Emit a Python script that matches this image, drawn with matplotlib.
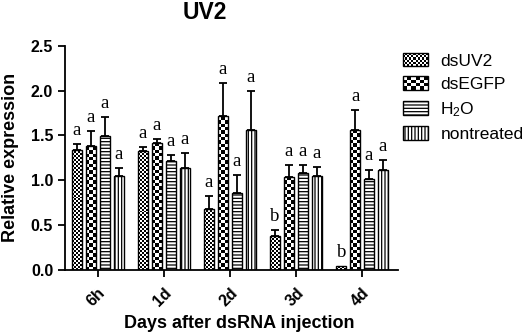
import numpy as np
import matplotlib
matplotlib.use('Agg')
import matplotlib.pyplot as plt
from matplotlib.patches import Patch, Rectangle
from matplotlib.legend_handler import HandlerBase

plt.rcParams['font.family'] = ['Liberation Sans', 'DejaVu Sans']
plt.rcParams['mathtext.default'] = 'regular'
plt.rcParams['hatch.linewidth'] = 0.9

# данные
groups = ['6h', '1d', '2d', '3d', '4d']
series = ['dsUV2', 'dsEGFP', 'H$_2$O', 'nontreated']
means = {
    'dsUV2':      [1.34, 1.33, 0.68, 0.38, 0.04],
    'dsEGFP':     [1.38, 1.41, 1.72, 1.04, 1.56],
    'H$_2$O':     [1.49, 1.21, 0.86, 1.08, 1.01],
    'nontreated': [1.05, 1.14, 1.56, 1.05, 1.12],
}
errs = {
    'dsUV2':      [0.06, 0.04, 0.15, 0.07, 0.0],
    'dsEGFP':     [0.17, 0.05, 0.36, 0.13, 0.22],
    'H$_2$O':     [0.21, 0.07, 0.20, 0.09, 0.11],
    'nontreated': [0.09, 0.16, 0.44, 0.10, 0.11],
}
letters = {
    'dsUV2':      ['a', 'a', 'a', 'b', 'b'],
    'dsEGFP':     ['a', 'a', 'a', 'a', 'a'],
    'H$_2$O':     ['a', 'a', 'a', 'a', 'a'],
    'nontreated': ['a', 'a', 'a', 'a', 'a'],
}
yticks = [0.0, 0.5, 1.0, 1.5, 2.0, 2.5]

# стиль заливки: (тип, параметр)
fills = {
    'dsUV2': ('checker', 5),
    'dsEGFP': ('checker', 3),
    'H$_2$O': ('hatch', '-----'),
    'nontreated': ('hatch', '|||||'),
}
cell_h = {'dsUV2': 0.022, 'dsEGFP': 0.037}

fig = plt.figure(figsize=(5.26, 3.36), dpi=100)
ax = fig.add_axes([0.1236, 0.1964, 0.7567 - 0.1236, 0.864 - 0.1964])

x = np.arange(len(groups))
offsets = [-0.315, -0.105, 0.105, 0.315]
width = 0.151


def checker_fill(ax, bar, nx, ch):
    x0, w, h = bar.get_x(), bar.get_width(), bar.get_height()
    ny = max(1, int(round(h / ch)))
    arr = np.add.outer(np.arange(ny), np.arange(nx)) % 2
    im = ax.imshow(arr, cmap='gray', vmin=0, vmax=1, origin='lower',
                   extent=(x0, x0 + w, 0, ny * ch), interpolation='nearest',
                   aspect='auto', zorder=1.5)
    im.set_clip_path(bar)


for s, off in zip(series, offsets):
    kind, p = fills[s]
    xs = x + off
    if kind == 'checker':
        bars = ax.bar(xs, means[s], width, facecolor='none', edgecolor='black',
                      linewidth=1.0, zorder=2)
        for b in bars:
            checker_fill(ax, b, p, cell_h[s])
    else:
        bars = ax.bar(xs, means[s], width, facecolor='white', edgecolor='black',
                      linewidth=1.0, hatch=p, zorder=2)
    e = np.array(errs[s])
    m = np.array(means[s])
    keep = e > 0
    ax.errorbar(xs[keep], m[keep], yerr=[np.zeros(keep.sum()), e[keep]], fmt='none',
                ecolor='black', elinewidth=1.3, capsize=3, capthick=1.3, zorder=3)
    for xi, top, lab in zip(xs, m + e, letters[s]):
        ax.annotate(lab, (xi, top), xytext=(0, 6.5), textcoords='offset points',
                    ha='center', va='baseline', fontsize=13.5,
                    family='Liberation Serif')

ax.set_xlim(-0.495, 4.545)
ax.set_ylim(0, 2.5)
ax.set_yticks(yticks)
ax.set_yticklabels([f'{t:.1f}' for t in yticks], fontsize=11.5, fontweight='bold')
ax.set_xticks(x)
ax.set_xticklabels(groups, fontsize=11.5, fontweight='bold', rotation=45,
                   ha='right', rotation_mode='anchor')
ax.tick_params(axis='both', direction='out', width=1.3, length=5, color='black')
ax.tick_params(axis='x', pad=6)
for sp in ['top', 'right']:
    ax.spines[sp].set_visible(False)
for sp in ['left', 'bottom']:
    ax.spines[sp].set_linewidth(1.3)

ax.set_ylabel('Relative expression', fontsize=13, fontweight='bold', va='center')
ax.yaxis.set_label_coords(-0.165, 0.504)
ax.set_xlabel('Days after dsRNA injection', fontsize=13, fontweight='bold', va='top')
ax.xaxis.set_label_coords(0.523, -0.20)

fig.text(205 / 526, 1 - 12.5 / 336, 'UV2', fontsize=16.5, fontweight='bold',
         ha='center', va='center')


class CheckerHandler(HandlerBase):
    def __init__(self, nx, ny):
        super().__init__()
        self.nx, self.ny = nx, ny

    def create_artists(self, legend, orig_handle, xdescent, ydescent, width, height,
                       fontsize, trans):
        arts = []
        cw, chh = width / self.nx, height / self.ny
        for i in range(self.nx):
            for j in range(self.ny):
                if (i + j) % 2 == 0:
                    arts.append(Rectangle((-xdescent + i * cw, -ydescent + j * chh), cw, chh,
                                          facecolor='black', edgecolor='none', transform=trans))
        arts.append(Rectangle((-xdescent, -ydescent), width, height, fill=False,
                              edgecolor='black', linewidth=1.0, transform=trans))
        return arts


h_uv2 = Patch(facecolor='white', edgecolor='black')
h_egfp = Patch(facecolor='white', edgecolor='black')
h_h2o = Patch(facecolor='white', edgecolor='black', hatch='-----')
h_nt = Patch(facecolor='white', edgecolor='black', hatch='|||||')
fig.legend([h_uv2, h_egfp, h_h2o, h_nt], series, loc='upper left',
           bbox_to_anchor=(403 / 526, 1 - 53 / 336), frameon=False, borderpad=0,
           borderaxespad=0, fontsize=12.5, handlelength=1.45, handleheight=0.8,
           handletextpad=0.7, labelspacing=0.45,
           handler_map={h_uv2: CheckerHandler(12, 6), h_egfp: CheckerHandler(6, 4)})

fig.savefig('out.png', dpi=100)
